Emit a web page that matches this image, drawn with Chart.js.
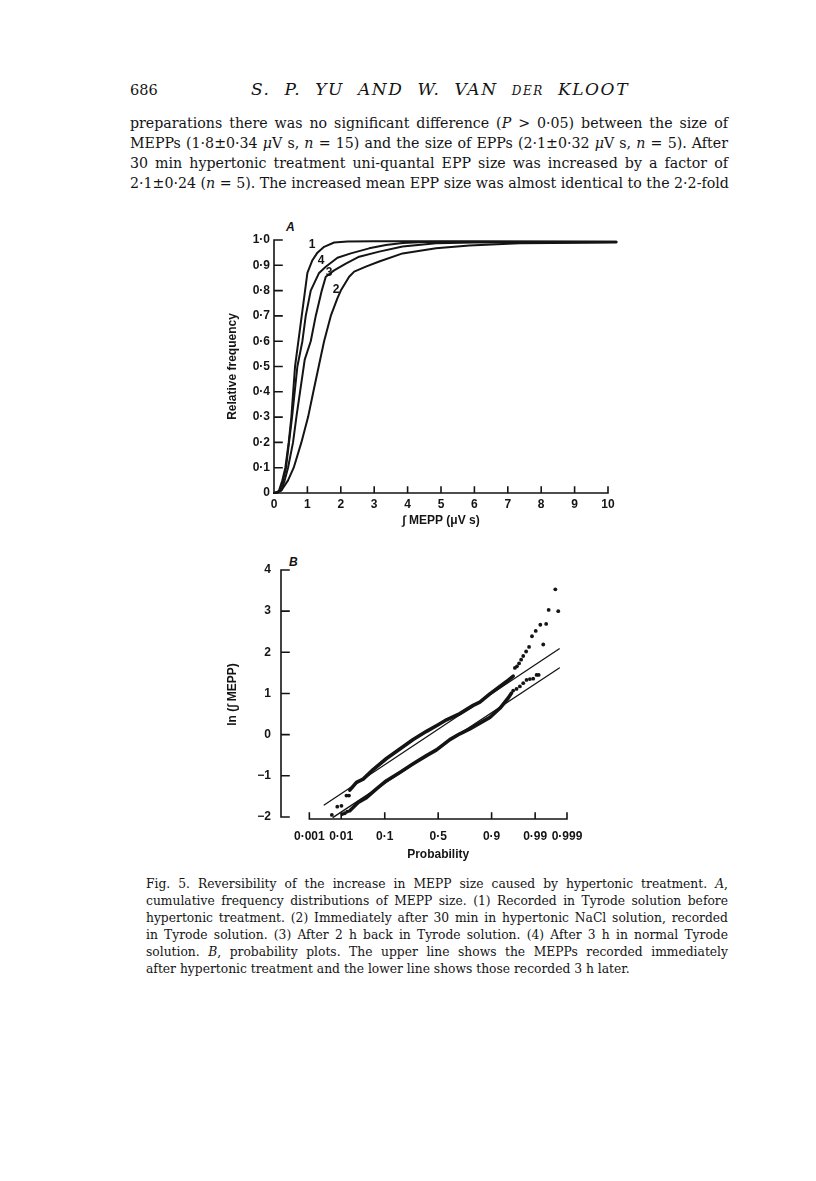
<!DOCTYPE html>
<html><head><meta charset="utf-8">
<script src="https://cdn.jsdelivr.net/npm/chart.js@4/dist/chart.umd.min.js"></script>
<style>
body{margin:0;background:#fff;width:816px;height:1181px;position:relative;overflow:hidden;font-family:"DejaVu Serif",serif;color:#141414}
.abs{position:absolute;white-space:nowrap}
.bl{position:absolute;left:130px;width:598px;white-space:nowrap;text-align:justify;text-align-last:justify;font-size:14.2px;line-height:20px}
.cl{position:absolute;left:146px;width:582px;white-space:nowrap;text-align:justify;text-align-last:justify;font-size:12.3px;line-height:17px}
.panel{position:absolute;font-family:"Liberation Sans",sans-serif;font-style:italic;font-weight:bold;font-size:12px}
canvas{position:absolute}
</style></head><body>
<div class="abs" style="left:130px;top:80px;font-size:14.5px;line-height:20px">686</div>
<div class="abs" style="left:240px;width:400px;text-align:center;top:79px;font-size:17px;line-height:20px;font-style:italic;letter-spacing:1.6px;word-spacing:7px">S. P. YU AND W. VAN <span style="font-size:12px">DER</span> KLOOT</div>
<div class="bl" style="top:113px">preparations there was no significant difference (<i>P</i> &gt; 0·05) between the size of</div>
<div class="bl" style="top:133px">MEPPs (1·8±0·34 <i>μ</i>V s, <i>n</i> = 15) and the size of EPPs (2·1±0·32 <i>μ</i>V s, <i>n</i> = 5). After</div>
<div class="bl" style="top:153px">30 min hypertonic treatment uni-quantal EPP size was increased by a factor of</div>
<div class="bl" style="top:173px">2·1±0·24 (<i>n</i> = 5). The increased mean EPP size was almost identical to the 2·2-fold</div>

<div class="panel" style="left:286px;top:220px">A</div>
<div class="panel" style="left:289px;top:555px">B</div>
<canvas id="ca" width="440" height="315" style="left:200px;top:220px"></canvas>
<canvas id="cb" width="440" height="320" style="left:200px;top:550px"></canvas>

<div class="cl" style="top:876px">Fig. 5. Reversibility of the increase in MEPP size caused by hypertonic treatment. <i>A</i>,</div>
<div class="cl" style="top:893px">cumulative frequency distributions of MEPP size. (1) Recorded in Tyrode solution before</div>
<div class="cl" style="top:910px">hypertonic treatment. (2) Immediately after 30 min in hypertonic NaCl solution, recorded</div>
<div class="cl" style="top:927px">in Tyrode solution. (3) After 2 h back in Tyrode solution. (4) After 3 h in normal Tyrode</div>
<div class="cl" style="top:944px">solution. <i>B</i>, probability plots. The upper line shows the MEPPs recorded immediately</div>
<div class="cl" style="top:961px;text-align-last:left">after hypertonic treatment and the lower line shows those recorded 3 h later.</div>

<script>
// ---------- Panel A data ----------
const xTicksA = [0,1,2,3,4,5,6,7,8,9,10];
const yTicksA = [0,0.1,0.2,0.3,0.4,0.5,0.6,0.7,0.8,0.9,1.0];
const yTickLabelsA = ['0','0·1','0·2','0·3','0·4','0·5','0·6','0·7','0·8','0·9','1·0'];
const curve1X = [0,0.1,0.15,0.25,0.34,0.44,0.52,0.63,0.73,0.83,0.93,1.0,1.15,1.3,1.5,1.8,2.2,3,5,8,10.25];
const curve1Y = [0,0.003,0.01,0.05,0.1,0.2,0.3,0.5,0.6,0.7,0.8,0.87,0.92,0.95,0.973,0.99,0.994,0.995,0.995,0.994,0.993];
const curve2X = [0,0.12,0.22,0.42,0.59,0.82,1.02,1.17,1.37,1.5,1.7,1.9,2.0,2.25,2.4,2.75,3.15,3.85,4.85,5.85,7.35,10.25];
const curve2Y = [0,0.003,0.01,0.05,0.1,0.2,0.3,0.395,0.52,0.6,0.7,0.77,0.8,0.855,0.875,0.895,0.915,0.947,0.967,0.978,0.987,0.99];
const curve3X = [0,0.12,0.22,0.32,0.42,0.57,0.67,0.92,1.1,1.25,1.43,1.55,1.8,2.15,2.55,3.15,3.85,4.85,6,8,10.25];
const curve3Y = [0,0.003,0.01,0.05,0.1,0.2,0.3,0.527,0.6,0.7,0.8,0.855,0.88,0.907,0.934,0.954,0.974,0.987,0.99,0.991,0.992];
const curve4X = [0,0.1,0.17,0.27,0.36,0.45,0.54,0.70,0.85,0.95,1.1,1.35,1.55,1.9,2.3,2.85,3.35,3.85,4.5,6,8,10.25];
const curve4Y = [0,0.003,0.01,0.05,0.1,0.2,0.3,0.5,0.6,0.7,0.8,0.87,0.894,0.93,0.947,0.967,0.98,0.988,0.992,0.993,0.993,0.993];
const curveLabels = ['1','4','3','2'];
const curveLabelX = [1.14,1.41,1.65,1.86];
const curveLabelY = [0.98,0.917,0.87,0.802];

// ---------- Panel B data ----------
const xTicksB = [-3.09,-2.326,-1.2816,0,1.2816,2.326,3.09];
const xTickLabelsB = ['0·001','0·01','0·1','0·5','0·9','0·99','0·999'];
const yTicksB = [-2,-1,0,1,2,3,4];
const yTickLabelsB = ['−2','−1','0','1','2','3','4'];
const upperBandX = [-2.12,-1.96,-1.80,-1.56,-1.24,-0.92,-0.60,-0.28,0,0.20,0.52,0.84,1.0,1.24,1.48,1.64,1.80];
const upperBandY = [-1.35,-1.16,-1.08,-0.85,-0.58,-0.35,-0.12,0.08,0.24,0.36,0.51,0.71,0.79,0.99,1.17,1.29,1.42];
const upperDotsX = [-2.42,-2.32,-2.20,-2.14,1.84,1.89,1.94,1.99,2.04,2.11,2.18,2.25,2.34,2.45,2.59,2.65,2.81,2.88];
const upperDotsY = [-1.75,-1.73,-1.48,-1.48,1.62,1.66,1.73,1.82,1.91,2.02,2.13,2.39,2.52,2.67,2.69,3.03,3.53,3.00];
const lowerBandX = [-2.12,-1.92,-1.72,-1.48,-1.24,-0.92,-0.60,-0.28,-0.04,0.28,0.52,0.76,1.0,1.24,1.48,1.68,1.76];
const lowerBandY = [-1.85,-1.65,-1.53,-1.32,-1.12,-0.92,-0.71,-0.51,-0.37,-0.12,0.02,0.14,0.28,0.42,0.64,0.89,1.01];
const lowerDotsX = [-2.55,-2.30,-2.24,-2.18,1.80,1.88,1.96,2.04,2.12,2.20,2.28,2.36,2.41,2.52];
const lowerDotsY = [-1.95,-1.93,-1.91,-1.87,1.07,1.11,1.17,1.25,1.33,1.35,1.36,1.45,1.45,2.19];
const upperFitX = [-2.735,2.905];
const upperFitY = [-1.71,2.085];
const lowerFitX = [-2.52,2.905];
const lowerFitY = [-2.01,1.62];

const INK = '#141414';
const tickFont = {family:'"Liberation Sans", Arial, sans-serif', size:12, weight:'bold'};
const pts = (xs, ys) => xs.map((x,i)=>({x, y: ys[i]}));

Chart.defaults.animation = false;
Chart.defaults.color = INK;

const axesA = {
  id:'axesA',
  afterDraw(chart){
    const {ctx, chartArea:ca} = chart; const sx = chart.scales.x, sy = chart.scales.y;
    ctx.save(); ctx.strokeStyle = INK; ctx.lineWidth = 1.6; ctx.lineCap = 'square';
    const y0 = sy.getPixelForValue(0);
    ctx.beginPath();
    ctx.moveTo(ca.left, sy.getPixelForValue(1)); ctx.lineTo(ca.left, y0);
    ctx.lineTo(sx.getPixelForValue(10), y0);
    sy.ticks.forEach(t=>{const p = sy.getPixelForValue(t.value); ctx.moveTo(ca.left,p); ctx.lineTo(ca.left+8,p);});
    sx.ticks.forEach(t=>{const p = sx.getPixelForValue(t.value); ctx.moveTo(p,y0); ctx.lineTo(p,y0-6);});
    ctx.stroke();
    ctx.fillStyle = INK; ctx.font = 'bold 12px "Liberation Sans", Arial, sans-serif';
    ctx.textAlign = 'center'; ctx.textBaseline = 'middle';
    curveLabels.forEach((l,i)=>ctx.fillText(l, sx.getPixelForValue(curveLabelX[i]), sy.getPixelForValue(curveLabelY[i])));
    ctx.restore();
  }
};

const lineDs = (xs, ys, w) => ({type:'scatter', data: pts(xs,ys), showLine:true, borderColor:INK, borderWidth:w, pointRadius:0, fill:false, clip:false, borderJoinStyle:'round', borderCapStyle:'round'});

new Chart(document.getElementById('ca'), {
  type:'scatter',
  data:{datasets:[
    lineDs(curve1X, curve1Y, 2), lineDs(curve2X, curve2Y, 2), lineDs(curve3X, curve3Y, 2), lineDs(curve4X, curve4Y, 2)
  ]},
  options:{
    responsive:false, devicePixelRatio:1,
    layout:{padding:{left:0,right:32,top:20,bottom:0}},
    plugins:{legend:{display:false}, tooltip:{enabled:false}},
    scales:{
      x:{type:'linear', min:0, max:10,
         afterBuildTicks:s=>{s.ticks = xTicksA.map(v=>({value:v}));},
         afterFit:s=>{s.height = 42;},
         grid:{display:false, drawTicks:false}, border:{display:false},
         ticks:{padding:4, font:tickFont, color:INK, maxRotation:0, autoSkip:false, callback:(v,i)=>String(xTicksA[i])},
         title:{display:true, text:'∫ MEPP (μV s)', color:INK, font:tickFont, padding:{top:0,bottom:7}}},
      y:{type:'linear', min:0, max:1,
         afterBuildTicks:s=>{s.ticks = yTicksA.map(v=>({value:v}));},
         afterFit:s=>{s.width = 74;},
         grid:{display:false, drawTicks:false}, border:{display:false},
         ticks:{padding:4, font:tickFont, color:INK, autoSkip:false, callback:(v,i)=>yTickLabelsA[i]},
         title:{display:true, text:'Relative frequency', color:INK, font:tickFont, padding:{top:25,bottom:0}}}
    }
  },
  plugins:[axesA]
});

const axesB = {
  id:'axesB',
  afterDraw(chart){
    const {ctx, chartArea:ca} = chart; const sx = chart.scales.x, sy = chart.scales.y;
    ctx.save(); ctx.strokeStyle = INK; ctx.lineWidth = 1.6; ctx.lineCap = 'square';
    ctx.beginPath();
    ctx.moveTo(ca.left, sy.getPixelForValue(yTicksB[yTicksB.length-1])); ctx.lineTo(ca.left, sy.getPixelForValue(yTicksB[0]));
    sy.ticks.forEach(t=>{const p = sy.getPixelForValue(t.value); ctx.moveTo(ca.left,p); ctx.lineTo(ca.left+8,p);});
    const yb = ca.bottom;
    ctx.moveTo(sx.getPixelForValue(xTicksB[0]), yb); ctx.lineTo(sx.getPixelForValue(xTicksB[xTicksB.length-1]), yb);
    sx.ticks.forEach(t=>{const p = sx.getPixelForValue(t.value); ctx.moveTo(p,yb); ctx.lineTo(p,yb-6);});
    ctx.stroke();
    ctx.fillStyle = INK; ctx.font = 'bold 12px "Liberation Sans", Arial, sans-serif';
    ctx.textAlign = 'center'; ctx.textBaseline = 'middle';
    const cx = (sx.getPixelForValue(xTicksB[0]) + sx.getPixelForValue(xTicksB[xTicksB.length-1]))/2;
    ctx.fillText('Probability', cx, chart.height - 15);
    ctx.restore();
  }
};

const dotDs = (xs, ys) => ({type:'scatter', data: pts(xs,ys), showLine:false, backgroundColor:INK, borderColor:INK, borderWidth:0, pointRadius:1.9, clip:false});

new Chart(document.getElementById('cb'), {
  type:'scatter',
  data:{datasets:[
    lineDs(upperFitX, upperFitY, 1.3), lineDs(lowerFitX, lowerFitY, 1.3),
    lineDs(upperBandX, upperBandY, 3.6), lineDs(lowerBandX, lowerBandY, 3.6),
    dotDs(upperDotsX, upperDotsY), dotDs(lowerDotsX, lowerDotsY)
  ]},
  options:{
    responsive:false, devicePixelRatio:1,
    layout:{padding:{left:0,right:73,top:20,bottom:0}},
    plugins:{legend:{display:false}, tooltip:{enabled:false}},
    scales:{
      x:{type:'linear', min:-3.77, max:3.09,
         afterBuildTicks:s=>{s.ticks = xTicksB.map(v=>({value:v}));},
         afterFit:s=>{s.height = 51;},
         grid:{display:false, drawTicks:false}, border:{display:false},
         ticks:{padding:10, font:tickFont, color:INK, maxRotation:0, autoSkip:false, callback:(v,i)=>xTickLabelsB[i]}},
      y:{type:'linear', min:-2.05, max:4,
         afterBuildTicks:s=>{s.ticks = yTicksB.map(v=>({value:v}));},
         afterFit:s=>{s.width = 81;},
         grid:{display:false, drawTicks:false}, border:{display:false},
         ticks:{padding:10, font:tickFont, color:INK, autoSkip:false, callback:(v,i)=>yTickLabelsB[i]},
         title:{display:true, text:'ln (∫ MEPP)', color:INK, font:tickFont, padding:{top:25,bottom:0}}}
    }
  },
  plugins:[axesB]
});
</script>
</body></html>
